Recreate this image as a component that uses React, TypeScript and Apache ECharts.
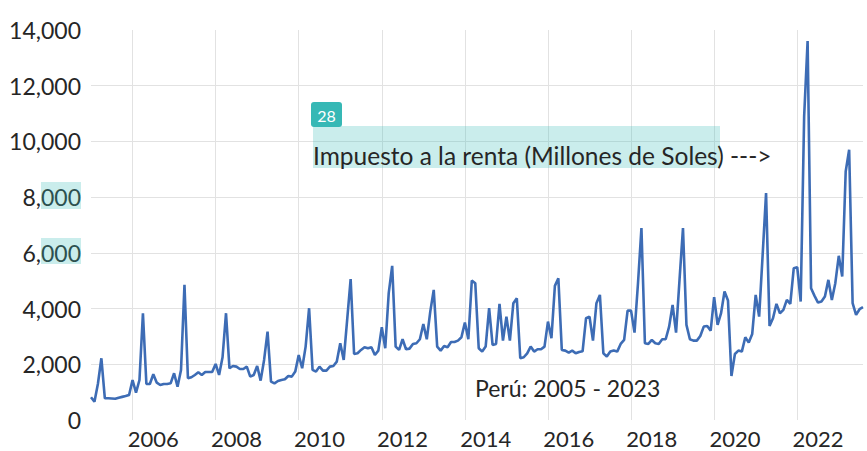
import React, { useEffect, useRef } from "react";
import * as echarts from "echarts";

// Monthly income tax revenue, Peru (millions of soles), Jan 2005 – Aug 2023
const y2005 = [815, 658, 1300, 2216, 779, 780, 770, 760, 800, 830, 860, 900];
const y2006 = [1437, 981, 1437, 3833, 1293, 1293, 1641, 1341, 1257, 1293, 1293, 1317];
const y2007 = [1677, 1197, 1797, 4851, 1497, 1533, 1617, 1713, 1617, 1725, 1725, 1725];
const y2008 = [2012, 1617, 2252, 3833, 1856, 1940, 1916, 1832, 1832, 1916, 1557, 1617];
const y2009 = [1940, 1413, 2156, 3173, 1377, 1317, 1401, 1437, 1461, 1581, 1557, 1737];
const y2010 = [2335, 1856, 2635, 4012, 1797, 1737, 1916, 1773, 1773, 1916, 1940, 2096];
const y2011 = [2755, 2156, 3600, 5055, 2371, 2395, 2515, 2611, 2575, 2611, 2335, 2491];
const y2012 = [3329, 2575, 4552, 5533, 2635, 2515, 2898, 2539, 2563, 2730, 2755, 2898];
const y2013 = [3449, 2898, 3892, 4671, 2635, 2491, 2659, 2611, 2802, 2802, 2850, 2970];
const y2014 = [3497, 2898, 5006, 4911, 2575, 2455, 2635, 4012, 2695, 2730, 4168, 2850];
const y2015 = [3713, 2850, 4192, 4372, 2216, 2252, 2395, 2635, 2455, 2539, 2539, 2635];
const y2016 = [3533, 2935, 4815, 5090, 2515, 2491, 2419, 2491, 2395, 2443, 2467, 3653];
const y2017 = [3713, 2850, 4192, 4491, 2395, 2276, 2455, 2491, 2455, 2731, 2874, 3928];
const y2018 = [3928, 3138, 4900, 6887, 2755, 2731, 2874, 2755, 2731, 2898, 2898, 3353];
const y2019 = [4132, 3138, 5030, 6887, 3413, 2898, 2850, 2850, 3018, 3353, 3377, 3209];
const y2020 = [4407, 3413, 3833, 4611, 4287, 1581, 2371, 2491, 2455, 2970, 2779, 3090];
const y2021 = [4491, 3713, 5900, 8144, 3377, 3653, 4168, 3833, 3952, 4311, 4168, 5450];
const y2022 = [5486, 4252, 10900, 13600, 4731, 4456, 4216, 4252, 4431, 5030, 4311, 4911];
const y2023 = [5893, 5150, 8922, 9701, 4192, 3773, 3976, 4048];

const years = [
  y2005, y2006, y2007, y2008, y2009, y2010, y2011, y2012, y2013, y2014,
  y2015, y2016, y2017, y2018, y2019, y2020, y2021, y2022, y2023,
];
const firstYear = 2005;

const yTicks = [0, 2000, 4000, 6000, 8000, 10000, 12000, 14000];

const annotationText = "Impuesto a la renta (Millones de Soles) --->";
const subtitleText = "Perú: 2005 - 2023";
const badgeText = "28";

const categories: string[] = [];
const values: number[] = [];
years.forEach((arr, yi) => {
  arr.forEach((v, m) => {
    categories.push(`${firstYear + yi}-${String(m + 1).padStart(2, "0")}`);
    values.push(v);
  });
});

const FONT = "Lato, 'Open Sans', sans-serif";
const TEXT = "#262626";
const HILITE = "rgba(64,190,185,0.28)";

export default function App() {
  const ref = useRef<HTMLDivElement>(null);
  useEffect(() => {
    document.body.style.margin = "0";
    if (!ref.current) return;
    const chart = echarts.init(ref.current, null, { renderer: "svg" });
    chart.setOption({
      animation: false,
      backgroundColor: "#ffffff",
      grid: { left: 91, right: 4, top: 30, bottom: 31, containLabel: false },
      xAxis: {
        type: "category",
        data: categories,
        boundaryGap: false,
        axisLine: { show: false },
        axisTick: { show: false },
        axisLabel: {
          interval: (i: number) => i % 24 === 18,
          formatter: (v: string) => v.slice(0, 4),
          fontSize: 22,
          fontFamily: FONT,
          color: TEXT,
          margin: 7,
        },
        splitLine: {
          show: true,
          interval: (i: number) => i % 24 === 12,
          lineStyle: { color: "#e2e2e2", width: 1 },
        },
      },
      yAxis: {
        type: "value",
        min: yTicks[0],
        max: yTicks[yTicks.length - 1],
        interval: 2000,
        axisLine: { show: false },
        axisTick: { show: false },
        axisLabel: {
          fontSize: 23,
          fontFamily: FONT,
          color: TEXT,
          margin: 10,
          formatter: (v: number) => v.toLocaleString("en-US"),
        },
        splitLine: {
          show: true,
          showMinLine: false,
          showMaxLine: false,
          lineStyle: { color: "#e2e2e2", width: 1 },
        },
      },
      series: [
        {
          type: "line",
          data: values,
          symbol: "none",
          lineStyle: { color: "#3d6cb5", width: 2.6 },
        },
      ],
      graphic: [
        { type: "rect", shape: { x: 41, y: 182, width: 40, height: 27 }, style: { fill: HILITE }, z: 10 },
        { type: "rect", shape: { x: 41, y: 238, width: 40, height: 26 }, style: { fill: HILITE }, z: 10 },
        { type: "rect", shape: { x: 313, y: 126, width: 407, height: 42 }, style: { fill: HILITE }, z: 10 },
        { type: "rect", shape: { x: 311, y: 102, width: 31, height: 25, r: 3 }, style: { fill: "#36b8b5" }, z: 11 },
        {
          type: "text", x: 326.5, y: 115, z: 12,
          style: { text: badgeText, fill: "#ffffff", fontSize: 16, fontFamily: FONT, align: "center", verticalAlign: "middle" },
        },
        {
          type: "text", x: 313, y: 155, z: 12,
          style: { text: annotationText, fill: TEXT, fontSize: 24.5, fontFamily: FONT, align: "left", verticalAlign: "middle" },
        },
        {
          type: "text", x: 475, y: 388, z: 12,
          style: { text: subtitleText, fill: TEXT, fontSize: 23, fontFamily: FONT, align: "left", verticalAlign: "middle" },
        },
      ],
    });
    return () => chart.dispose();
  }, []);
  return <div ref={ref} style={{ width: 867, height: 451 }} />;
}
